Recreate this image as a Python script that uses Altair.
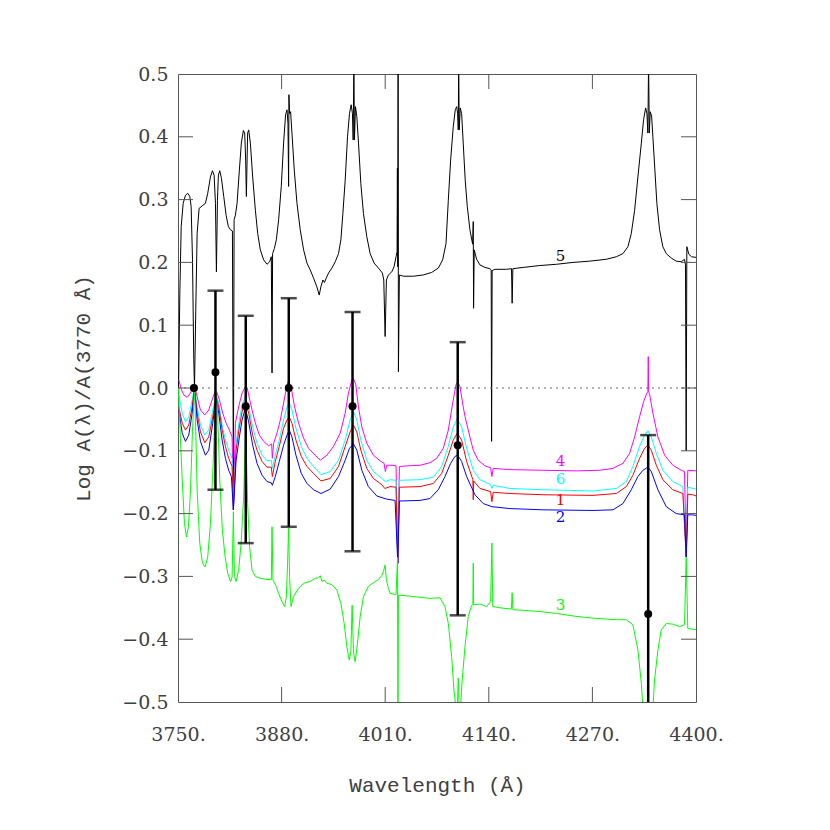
import altair as alt
import pandas as pd

# ---------------- data ----------------
series_names = ["5", "4", "6", "1", "2", "3"]
series_colors = ["#000000", "#ff00ff", "#00ffff", "#ff0000", "#0000ff", "#00ff00"]

curve_5 = [(3750.6,-0.01),(3752.3,0.151),(3754.0,0.257),(3756.5,0.294),(3759.4,0.307),(3762.3,0.310),(3764.8,0.305),(3766.5,0.289),(3768.2,0.204),(3769.8,0.045),(3770.7,0.0),(3772.3,0.124),(3774.0,0.246),(3776.5,0.286),(3780.3,0.290),(3784.4,0.294),(3787.3,0.310),(3790.7,0.336),(3793.2,0.346),(3795.3,0.339),(3797.0,0.294),(3798.2,0.185),(3799.5,0.299),(3800.7,0.339),(3802.4,0.346),(3804.5,0.334),(3807.4,0.305),(3810.4,0.275),(3813.2,0.257),(3815.8,0.252),(3818.3,0.250),(3819.5,-0.16),(3820.4,0.268),(3822.0,0.275),(3824.1,0.294),(3827.0,0.347),(3829.5,0.390),(3832.0,0.410),(3833.7,0.406),(3834.9,0.363),(3835.8,0.305),(3836.7,0.363),(3837.4,0.406),(3838.7,0.411),(3840.8,0.390),(3843.7,0.336),(3847.1,0.283),(3850.0,0.246),(3853.3,0.220),(3857.5,0.204),(3861.7,0.197),(3865.0,0.201),(3867.1,0.209),(3868.0,0.024),(3868.7,0.214),(3870.9,0.222),(3873.4,0.236),(3876.3,0.268),(3879.6,0.321),(3882.5,0.390),(3885.0,0.435),(3886.8,0.443),(3888.0,0.421),(3888.8,0.321),(3889.2,0.467),(3890.0,0.437),(3891.3,0.440),(3893.0,0.406),(3895.9,0.347),(3899.3,0.294),(3903.4,0.252),(3907.6,0.220),(3911.8,0.199),(3915.9,0.188),(3920.1,0.175),(3924.3,0.161),(3927.2,0.148),(3929.3,0.161),(3931.8,0.172),(3933.8,0.168),(3936.0,0.175),(3938.9,0.183),(3943.1,0.191),(3947.3,0.201),(3951.4,0.214),(3954.4,0.236),(3956.9,0.278),(3959.8,0.331),(3962.7,0.400),(3965.2,0.437),(3967.3,0.451),(3968.9,0.437),(3969.8,0.395),(3970.7,0.52),(3971.4,0.395),(3972.7,0.448),(3974.4,0.432),(3976.5,0.390),(3979.4,0.326),(3982.7,0.278),(3986.9,0.241),(3991.1,0.214),(3996.1,0.199),(4001.5,0.191),(4006.5,0.183),(4008.2,0.172),(4009.9,0.082),(4011.5,0.172),(4014.0,0.180),(4018.3,0.185),(4021.1,0.193),(4023.6,0.209),(4024.9,0.217),(4025.3,0.350),(4025.8,0.193),(4026.2,0.52),(4026.6,0.026),(4027.8,0.180),(4032.8,0.178),(4045.3,0.178),(4057.8,0.180),(4068.3,0.184),(4076.7,0.191),(4082.1,0.204),(4086.3,0.230),(4089.2,0.299),(4092.1,0.363),(4095.4,0.416),(4097.9,0.443),(4099.7,0.448),(4100.9,0.437),(4101.7,0.411),(4102.2,0.52),(4102.9,0.411),(4104.2,0.446),(4105.9,0.437),(4107.9,0.390),(4110.4,0.331),(4113.0,0.289),(4116.3,0.252),(4119.7,0.229),(4120.5,0.265),(4120.9,0.127),(4121.7,0.220),(4124.7,0.205),(4128.9,0.196),(4135.1,0.192),(4141.4,0.190),(4143.0,0.188),(4143.5,-0.085),(4144.2,0.187),(4147.6,0.189),(4162.3,0.189),(4168.5,0.190),(4169.3,0.135),(4170.2,0.190),(4183.1,0.192),(4204.0,0.195),(4224.9,0.197),(4245.7,0.200),(4266.6,0.202),(4287.5,0.205),(4300.1,0.209),(4308.3,0.214),(4314.6,0.225),(4318.8,0.246),(4323.0,0.283),(4327.1,0.336),(4331.4,0.390),(4334.2,0.427),(4336.8,0.446),(4338.4,0.437),(4339.6,0.406),(4340.5,0.52),(4341.4,0.406),(4342.6,0.440),(4344.3,0.433),(4345.9,0.400),(4348.4,0.347),(4350.9,0.294),(4354.3,0.252),(4358.4,0.225),(4362.7,0.214),(4368.9,0.207),(4375.2,0.202),(4381.5,0.201),(4385.6,0.205),(4386.8,0.196),(4387.7,-0.10),(4388.5,0.225),(4391.0,0.213),(4394.4,0.209),(4400.0,0.208)]

curve_4 = [(3751.0,0.013),(3754.4,-0.003),(3757.3,-0.011),(3761.5,-0.015),(3765.7,-0.008),(3768.5,0.002),(3770.7,0.004),(3774.0,-0.014),(3778.2,-0.035),(3783.6,-0.043),(3788.6,-0.035),(3792.8,-0.019),(3796.1,-0.007),(3798.6,-0.006),(3802.0,-0.019),(3806.1,-0.040),(3810.4,-0.056),(3814.5,-0.067),(3817.9,-0.078),(3819.5,-0.194),(3822.0,-0.056),(3826.1,-0.030),(3830.4,-0.008),(3834.5,0.002),(3836.7,0.001),(3838.7,-0.011),(3842.9,-0.035),(3847.1,-0.056),(3852.1,-0.075),(3857.5,-0.085),(3863.7,-0.092),(3867.5,-0.089),(3868.4,-0.112),(3870.0,-0.088),(3874.2,-0.072),(3878.4,-0.051),(3882.5,-0.024),(3886.8,0.005),(3888.8,0.012),(3892.1,0.0),(3896.3,-0.030),(3901.3,-0.056),(3907.6,-0.080),(3913.8,-0.096),(3922.2,-0.107),(3928.5,-0.115),(3936.9,-0.107),(3945.1,-0.093),(3953.5,-0.072),(3959.8,-0.040),(3963.9,-0.008),(3968.2,0.013),(3970.2,0.015),(3973.2,0.005),(3976.4,-0.030),(3980.7,-0.062),(3986.9,-0.088),(3995.2,-0.107),(4003.6,-0.116),(4008.6,-0.120),(4010.2,-0.133),(4012.0,-0.123),(4018.3,-0.123),(4023.6,-0.124),(4025.8,-0.279),(4027.8,-0.125),(4037.1,-0.124),(4053.7,-0.123),(4066.2,-0.119),(4074.6,-0.112),(4082.9,-0.096),(4089.2,-0.067),(4094.7,-0.024),(4098.8,0.005),(4100.9,0.010),(4103.8,0.002),(4107.9,-0.030),(4110.1,-0.045),(4114.2,-0.067),(4116.3,-0.078),(4120.5,-0.099),(4126.7,-0.115),(4135.1,-0.124),(4142.3,-0.127),(4143.9,-0.141),(4145.5,-0.128),(4166.4,-0.130),(4208.1,-0.131),(4250.0,-0.132),(4279.1,-0.131),(4295.8,-0.128),(4308.3,-0.120),(4316.7,-0.104),(4323.0,-0.078),(4329.2,-0.046),(4334.2,-0.022),(4338.4,-0.008),(4339.6,-0.006),(4340.1,0.050),(4340.6,-0.006),(4341.8,-0.010),(4345.9,-0.040),(4352.2,-0.078),(4360.6,-0.107),(4370.9,-0.123),(4381.5,-0.131),(4385.6,-0.133),(4387.7,-0.269),(4389.7,-0.131),(4400.2,-0.132)]

curve_6 = [(3751.0,-0.011),(3755.3,-0.040),(3759.4,-0.054),(3763.5,-0.046),(3767.8,-0.019),(3770.7,0.0),(3774.0,-0.030),(3778.2,-0.059),(3783.6,-0.075),(3788.6,-0.067),(3793.6,-0.035),(3797.8,-0.011),(3801.1,-0.024),(3805.4,-0.059),(3809.5,-0.083),(3813.6,-0.099),(3817.9,-0.112),(3819.5,-0.194),(3822.9,-0.088),(3827.0,-0.051),(3830.4,-0.027),(3834.5,-0.014),(3838.7,-0.030),(3843.7,-0.062),(3849.2,-0.088),(3855.5,-0.107),(3861.7,-0.116),(3867.1,-0.115),(3868.4,-0.128),(3872.1,-0.107),(3877.1,-0.083),(3882.5,-0.051),(3886.8,-0.030),(3889.6,-0.024),(3893.0,-0.035),(3898.0,-0.064),(3904.7,-0.093),(3911.8,-0.112),(3920.1,-0.125),(3929.5,-0.138),(3941.0,-0.133),(3951.4,-0.115),(3959.8,-0.083),(3966.0,-0.051),(3970.2,-0.038),(3974.4,-0.051),(3979.4,-0.083),(3986.9,-0.115),(3995.2,-0.133),(4005.7,-0.144),(4010.2,-0.149),(4016.1,-0.146),(4023.6,-0.147),(4025.8,-0.279),(4027.8,-0.147),(4053.7,-0.146),(4070.4,-0.142),(4080.9,-0.125),(4089.2,-0.093),(4095.4,-0.062),(4100.4,-0.049),(4105.9,-0.062),(4112.2,-0.096),(4120.5,-0.131),(4128.9,-0.146),(4142.3,-0.154),(4143.9,-0.160),(4145.5,-0.155),(4166.4,-0.160),(4208.1,-0.162),(4270.7,-0.164),(4300.1,-0.160),(4312.6,-0.149),(4320.8,-0.125),(4329.2,-0.093),(4335.5,-0.075),(4339.6,-0.068),(4343.9,-0.078),(4350.2,-0.104),(4358.4,-0.131),(4370.9,-0.149),(4383.5,-0.157),(4387.7,-0.269),(4389.7,-0.158),(4396.0,-0.160),(4400.2,-0.161)]

curve_1 = [(3751.0,-0.030),(3755.3,-0.056),(3759.4,-0.067),(3763.5,-0.059),(3767.8,-0.030),(3770.7,0.0),(3774.0,-0.040),(3778.2,-0.070),(3783.6,-0.087),(3788.6,-0.078),(3793.6,-0.046),(3797.8,-0.014),(3801.1,-0.030),(3805.4,-0.067),(3809.5,-0.093),(3813.6,-0.112),(3817.9,-0.125),(3819.5,-0.194),(3822.9,-0.099),(3827.0,-0.062),(3830.4,-0.038),(3834.5,-0.022),(3838.7,-0.040),(3843.7,-0.075),(3849.2,-0.099),(3855.5,-0.117),(3861.7,-0.126),(3867.1,-0.126),(3868.4,-0.141),(3872.1,-0.117),(3877.1,-0.093),(3882.5,-0.064),(3886.8,-0.051),(3889.6,-0.046),(3893.0,-0.056),(3898.0,-0.083),(3904.7,-0.109),(3911.8,-0.125),(3920.1,-0.136),(3929.5,-0.148),(3941.0,-0.144),(3951.4,-0.125),(3959.8,-0.093),(3966.0,-0.070),(3970.2,-0.059),(3974.4,-0.070),(3979.4,-0.099),(3986.9,-0.128),(3995.2,-0.144),(4005.7,-0.154),(4009.5,-0.160),(4016.1,-0.157),(4023.6,-0.158),(4025.8,-0.279),(4027.8,-0.158),(4053.7,-0.157),(4070.4,-0.152),(4080.9,-0.136),(4089.2,-0.107),(4095.4,-0.083),(4100.4,-0.072),(4105.9,-0.083),(4112.2,-0.117),(4120.0,-0.146),(4120.5,-0.178),(4121.0,-0.148),(4128.9,-0.160),(4142.3,-0.165),(4143.9,-0.181),(4145.5,-0.166),(4166.4,-0.168),(4208.1,-0.170),(4270.7,-0.171),(4300.1,-0.168),(4312.6,-0.157),(4320.8,-0.139),(4329.2,-0.112),(4335.5,-0.096),(4339.6,-0.091),(4343.9,-0.099),(4350.2,-0.123),(4358.4,-0.146),(4370.9,-0.162),(4383.5,-0.168),(4387.7,-0.269),(4389.7,-0.169),(4396.0,-0.170),(4400.2,-0.172)]

curve_2 = [(3751.0,-0.035),(3755.3,-0.072),(3759.4,-0.085),(3763.5,-0.075),(3767.8,-0.040),(3770.7,0.0),(3774.0,-0.051),(3778.2,-0.085),(3784.4,-0.107),(3788.6,-0.099),(3793.6,-0.056),(3797.8,-0.016),(3801.1,-0.040),(3805.4,-0.083),(3809.5,-0.112),(3813.6,-0.131),(3817.0,-0.141),(3819.5,-0.194),(3822.9,-0.115),(3827.0,-0.078),(3830.4,-0.051),(3834.5,-0.032),(3838.7,-0.054),(3843.7,-0.091),(3849.2,-0.120),(3855.5,-0.139),(3861.7,-0.149),(3867.1,-0.151),(3868.4,-0.155),(3872.1,-0.141),(3877.1,-0.117),(3882.5,-0.091),(3886.8,-0.075),(3889.6,-0.067),(3893.0,-0.078),(3898.0,-0.107),(3904.7,-0.136),(3911.8,-0.152),(3920.1,-0.162),(3929.5,-0.168),(3941.0,-0.161),(3951.4,-0.141),(3959.8,-0.115),(3965.2,-0.096),(3970.2,-0.089),(3974.4,-0.099),(3980.7,-0.131),(3988.9,-0.157),(3999.5,-0.172),(4012.0,-0.177),(4022.4,-0.179),(4025.8,-0.279),(4027.8,-0.180),(4053.7,-0.179),(4066.2,-0.176),(4076.6,-0.162),(4085.0,-0.141),(4092.1,-0.120),(4097.5,-0.109),(4100.9,-0.107),(4105.9,-0.117),(4112.2,-0.141),(4122.6,-0.170),(4133.0,-0.184),(4143.9,-0.189),(4166.4,-0.192),(4208.1,-0.194),(4270.7,-0.195),(4295.8,-0.194),(4308.3,-0.184),(4318.8,-0.162),(4327.1,-0.141),(4333.4,-0.131),(4339.6,-0.126),(4343.9,-0.133),(4352.2,-0.162),(4362.7,-0.189),(4375.2,-0.200),(4385.6,-0.202),(4387.7,-0.269),(4389.7,-0.202),(4396.0,-0.202),(4400.2,-0.203)]

curve_3 = [(3750.6,0.0),(3753.0,-0.08),(3755.3,-0.146),(3758.1,-0.216),(3760.6,-0.237),(3763.1,-0.221),(3765.7,-0.162),(3768.2,-0.067),(3770.7,0.0),(3772.3,-0.067),(3774.0,-0.162),(3777.3,-0.247),(3780.7,-0.279),(3784.1,-0.285),(3787.3,-0.269),(3790.7,-0.216),(3794.1,-0.120),(3796.6,-0.030),(3798.2,-0.008),(3799.8,-0.043),(3802.4,-0.146),(3805.7,-0.226),(3809.1,-0.269),(3812.4,-0.295),(3815.8,-0.308),(3817.9,-0.301),(3819.5,-0.197),(3820.8,-0.300),(3822.9,-0.308),(3826.1,-0.290),(3829.2,-0.247),(3832.4,-0.173),(3834.9,-0.06),(3837.4,-0.184),(3839.9,-0.253),(3842.9,-0.290),(3847.1,-0.300),(3853.3,-0.303),(3861.7,-0.305),(3867.1,-0.305),(3868.0,-0.221),(3869.2,-0.306),(3873.4,-0.316),(3876.2,-0.327),(3880.5,-0.340),(3883.8,-0.348),(3885.9,-0.333),(3887.5,-0.28),(3888.8,-0.223),(3890.0,-0.30),(3891.8,-0.348),(3895.0,-0.332),(3901.3,-0.319),(3907.6,-0.311),(3915.9,-0.308),(3922.2,-0.303),(3926.3,-0.302),(3928.5,-0.299),(3930.6,-0.308),(3933.5,-0.306),(3936.9,-0.311),(3943.1,-0.313),(3949.4,-0.322),(3954.4,-0.343),(3958.5,-0.375),(3961.9,-0.412),(3964.8,-0.433),(3966.9,-0.42),(3968.5,-0.346),(3970.2,-0.42),(3972.3,-0.436),(3975.2,-0.407),(3978.6,-0.364),(3982.7,-0.332),(3988.9,-0.316),(3995.2,-0.310),(4001.5,-0.305),(4006.1,-0.298),(4008.2,-0.290),(4009.9,-0.282),(4011.5,-0.305),(4014.0,-0.319),(4016.1,-0.327),(4023.6,-0.329),(4025.5,-0.27),(4026.0,-0.55),(4026.6,-0.330),(4028.7,-0.330),(4045.3,-0.332),(4066.2,-0.335),(4078.8,-0.334),(4085.0,-0.348),(4089.2,-0.375),(4093.4,-0.428),(4096.3,-0.481),(4098.8,-0.51),(4100.5,-0.51),(4101.7,-0.462),(4103.0,-0.51),(4104.5,-0.51),(4106.3,-0.470),(4110.1,-0.412),(4114.2,-0.364),(4118.4,-0.346),(4120.0,-0.345),(4120.5,-0.279),(4121.0,-0.345),(4128.9,-0.344),(4137.3,-0.348),(4142.3,-0.340),(4143.9,-0.247),(4145.0,-0.348),(4153.9,-0.350),(4168.3,-0.352),(4169.3,-0.326),(4170.2,-0.353),(4183.1,-0.354),(4204.0,-0.356),(4224.9,-0.359),(4245.7,-0.363),(4266.6,-0.366),(4287.5,-0.368),(4300.1,-0.369),(4312.6,-0.369),(4320.8,-0.377),(4327.1,-0.417),(4331.4,-0.470),(4333.4,-0.51),(4345.9,-0.51),(4348.0,-0.465),(4352.2,-0.417),(4356.4,-0.385),(4362.7,-0.375),(4370.9,-0.376),(4379.3,-0.380),(4385.6,-0.377),(4387.7,-0.269),(4389.7,-0.383),(4400.2,-0.385)]

# measured points with error bars
eb_wl = [3770, 3797, 3835, 3889, 3969, 4101, 4340]
eb_val = [0.0, 0.025, -0.029, 0.0, -0.029, -0.091, -0.360]
eb_lo = [0.0, -0.162, -0.247, -0.221, -0.260, -0.362, -0.62]
eb_hi = [0.0, 0.155, 0.115, 0.143, 0.121, 0.073, -0.075]

# curve labels
label_text = ["5", "4", "6", "1", "2", "3"]
label_wl = [4230, 4230, 4230, 4230, 4230, 4230]
label_val = [0.210, -0.116, -0.145, -0.178, -0.205, -0.346]

x_label_values = [3750, 3880, 4010, 4140, 4270, 4400]
x_tick_values = [3880, 4010, 4140, 4270]
y_values = [-0.5, -0.4, -0.3, -0.2, -0.1, 0.0, 0.1, 0.2, 0.3, 0.4, 0.5]
y_tick_values = [-0.4, -0.3, -0.2, -0.1, 0.0, 0.1, 0.2, 0.3, 0.4]

# ---------------- build ----------------
rows = []
for name, pts in zip(series_names, [curve_5, curve_4, curve_6, curve_1, curve_2, curve_3]):
    for i, (w, v) in enumerate(pts):
        rows.append({"series": name, "wl": w, "val": v, "idx": i})
df = pd.DataFrame(rows)

df_eb = pd.DataFrame({"wl": eb_wl, "val": eb_val, "lo": eb_lo, "hi": eb_hi})
df_lab = pd.DataFrame({"series": label_text, "wl": label_wl, "val": label_val})
df_xt = pd.DataFrame({"v": x_tick_values})
df_yt = pd.DataFrame({"v": y_tick_values})

W, H = 518, 628
FONT = "DejaVu Serif"
TFONT = "Liberation Mono"
TXT = "#404040"
FRAME = "#555555"
XT = "Wavelength (Å)"
YT = "Log A(λ)/A(3770 Å)"

xscale = alt.Scale(domain=[3750, 4400], nice=False, zero=False)
yscale = alt.Scale(domain=[-0.5, 0.5], nice=False, zero=False)
cscale = alt.Scale(domain=series_names, range=series_colors)

xaxis = alt.Axis(values=x_label_values, labelExpr="datum.value + '.'", ticks=False, domain=False,
                 grid=False, labelFont=FONT, labelFontSize=19, labelColor=TXT, labelPadding=23,
                 labelFlush=False, titleFont=TFONT, titleFontSize=21, titleColor=TXT,
                 titleFontWeight="normal", titlePadding=30)
yaxis = alt.Axis(values=y_values, format=".1f", ticks=False, domain=False, grid=False,
                 labelFont=FONT, labelFontSize=19, labelColor=TXT, labelPadding=10,
                 labelFlush=False, titleFont=TFONT, titleFontSize=21, titleColor=TXT,
                 titleFontWeight="normal", titlePadding=28)


def X(field):
    return alt.X(field, scale=xscale, axis=xaxis, title=XT)


def Y(field):
    return alt.Y(field, scale=yscale, axis=yaxis, title=YT)


lines = alt.Chart(df).mark_line(strokeWidth=1, clip=True).encode(
    x=X("wl:Q"), y=Y("val:Q"),
    color=alt.Color("series:N", scale=cscale, legend=None),
    order=alt.Order("idx:Q"),
)

zero = alt.Chart(pd.DataFrame({"v": [0.0]})).mark_rule(
    color="#666666", strokeWidth=1, strokeDash=[2, 4]).encode(y=Y("v:Q"))

bars = alt.Chart(df_eb).mark_rule(color="black", strokeWidth=2.5, clip=True).encode(
    x=X("wl:Q"), y=Y("lo:Q"), y2="hi:Q")

caps_hi = alt.Chart(df_eb).transform_filter("datum.lo != datum.hi").mark_tick(
    orient="horizontal", size=16, thickness=2.5, color="black", clip=True).encode(
    x=X("wl:Q"), y=Y("hi:Q"))
caps_lo = alt.Chart(df_eb).transform_filter("datum.lo != datum.hi").mark_tick(
    orient="horizontal", size=16, thickness=2.5, color="black", clip=True).encode(
    x=X("wl:Q"), y=Y("lo:Q"))

dots = alt.Chart(df_eb).mark_circle(size=64, color="black", opacity=1).encode(
    x=X("wl:Q"), y=Y("val:Q"))

labels = alt.Chart(df_lab).mark_text(font=FONT, fontSize=15, baseline="middle", align="center").encode(
    x=X("wl:Q"), y=Y("val:Q"),
    text="series:N",
    color=alt.Color("series:N", scale=cscale, legend=None))

xt_bot = alt.Chart(df_xt).mark_rule(color=FRAME, strokeWidth=1).encode(
    x=X("v:Q"), y=alt.value(H), y2=alt.value(H - 15))
xt_top = alt.Chart(df_xt).mark_rule(color=FRAME, strokeWidth=1).encode(
    x=X("v:Q"), y=alt.value(0), y2=alt.value(15))
yt_left = alt.Chart(df_yt).mark_rule(color=FRAME, strokeWidth=1).encode(
    y=Y("v:Q"), x=alt.value(0), x2=alt.value(15))
yt_right = alt.Chart(df_yt).mark_rule(color=FRAME, strokeWidth=1).encode(
    y=Y("v:Q"), x=alt.value(W - 15), x2=alt.value(W))

chart = alt.layer(
    lines, zero, xt_bot, xt_top, yt_left, yt_right, bars, caps_hi, caps_lo, dots, labels
).properties(
    width=W, height=H,
    padding={"left": 170, "top": 66, "right": 116, "bottom": 100},
    autosize=alt.AutoSizeParams(type="none"),
    background="white",
).configure_view(stroke=FRAME, strokeWidth=1)

chart.save("out.html", embed_options={"renderer": "svg", "actions": False})
